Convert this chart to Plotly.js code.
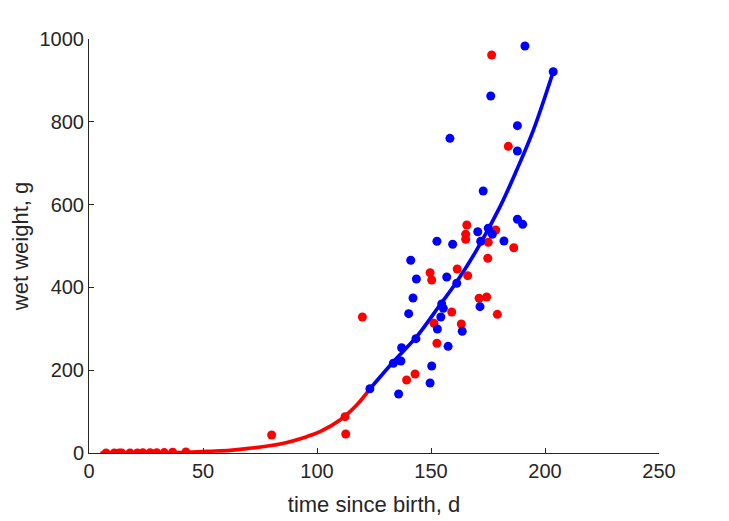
<!DOCTYPE html>
<html>
<head>
<meta charset="utf-8">
<script src="https://cdn.plot.ly/plotly-3.0.1.min.js"></script>
<style>
  html, body { margin: 0; padding: 0; background: #fff; }
  #chart { width: 729px; height: 521px; }
</style>
</head>
<body>
<div id="chart"></div>
<script>
// Observations: red (early data set) and blue (later data set)
const redTime = [7.5, 11.1, 13.3, 14.3, 18, 21.2, 23.6, 26.8, 29.7, 33, 36.7, 42.5,
  80.1, 112.3, 112.6, 119.9, 139.3, 143, 149.6, 150.3, 151.3, 152.6, 159.1, 161.5,
  163.3, 165.2, 165.2, 165.7, 166.1, 171.1, 174.4, 174.9, 175.1, 176.6, 178.4, 179.1,
  183.9, 186.3];
const redWeight = [0, 0, 0, 0, 0.2, 0.3, 0.4, 0.5, 0.8, 1, 2, 2.5,
  43.5, 87.7, 46, 328.5, 176.3, 190.8, 435.5, 417.9, 313.3, 265, 340.6, 444.4,
  311.6, 528.3, 516.2, 550.7, 428.3, 373.7, 376.8, 470.3, 509, 961.4, 538.6, 335,
  740.8, 495.9];

const blueTime = [123.2, 133.5, 135.8, 136.8, 137.1, 140.2, 141.1, 142.1, 143.4, 143.6,
  149.6, 150.3, 152.6, 152.8, 154.3, 154.7, 155.4, 156.9, 157.5, 158.3, 159.5, 161.3,
  163.7, 170.5, 171.5, 171.8, 172.9, 175.1, 176.2, 176.9, 182, 187.9, 187.9, 187.9,
  190.2, 191.2, 203.6];
const blueWeight = [155.3, 216.7, 142.5, 222.2, 254.3, 336.5, 465.5, 374.4, 276.1, 420.3,
  169.1, 210.1, 511.4, 299.5, 328.5, 359.9, 349.5, 425.1, 257.7, 760.1, 504.1, 409.9,
  294, 534.5, 353.4, 511.4, 632.9, 542.8, 862.3, 528.3, 512.1, 564.5, 790.6, 729.5,
  552.4, 983.1, 921];

// Fitted growth curve (red part, then blue part)
const fitRedTime = [5, 20, 39.9, 51.6, 61.8, 69.2, 83.8, 95.5, 101.3, 110.1, 117.4, 123.2];
const fitRedWeight = [0, 0.2, 0.8, 4, 6.4, 10.5, 21.7, 39.5, 51.5, 79.7, 116, 155];
const fitBlueTime = [123.2, 133.5, 143.7, 153.9, 161.3, 170, 180.3, 187.6, 194.9, 203.6];
const fitBlueWeight = [155, 220.6, 281, 357.5, 413.8, 490, 595, 683.6, 780, 921];

const red = 'rgb(255,0,0)';
const blue = 'rgb(0,0,255)';
const ink = '#262626';

const traces = [
  { x: fitRedTime, y: fitRedWeight, mode: 'lines', type: 'scatter',
    line: { color: red, width: 3.7, shape: 'spline' }, hoverinfo: 'skip' },
  { x: fitBlueTime, y: fitBlueWeight, mode: 'lines', type: 'scatter',
    line: { color: blue, width: 3.7, shape: 'spline' }, hoverinfo: 'skip' },
  { x: redTime, y: redWeight, mode: 'markers', type: 'scatter',
    marker: { size: 9, color: red } },
  { x: blueTime, y: blueWeight, mode: 'markers', type: 'scatter',
    marker: { size: 9, color: blue } }
];

const tickFont = { family: 'Liberation Sans, Arial, sans-serif', size: 20, color: ink };
const titleFont = { family: 'Liberation Sans, Arial, sans-serif', size: 22, color: ink };

const layout = {
  width: 729,
  height: 521,
  showlegend: false,
  margin: { l: 89, r: 70, t: 39, b: 68 },
  paper_bgcolor: '#fff',
  plot_bgcolor: '#fff',
  font: tickFont,
  xaxis: {
    range: [0, 250],
    dtick: 50,
    tick0: 0,
    ticks: 'inside',
    ticklen: 5,
    tickcolor: ink,
    showline: true,
    linecolor: ink,
    linewidth: 1,
    showgrid: false,
    zeroline: false,
    tickfont: tickFont,
    title: { text: 'time since birth, d', font: titleFont, standoff: 15 }
  },
  yaxis: {
    range: [0, 1000],
    dtick: 200,
    tick0: 0,
    ticks: 'inside',
    ticklen: 5,
    tickcolor: ink,
    showline: true,
    linecolor: ink,
    linewidth: 1,
    showgrid: false,
    zeroline: false,
    tickfont: tickFont,
    title: { text: 'wet weight, g', font: titleFont, standoff: 4 }
  }
};

Plotly.newPlot('chart', traces, layout, { displayModeBar: false, staticPlot: true });
</script>
</body>
</html>
